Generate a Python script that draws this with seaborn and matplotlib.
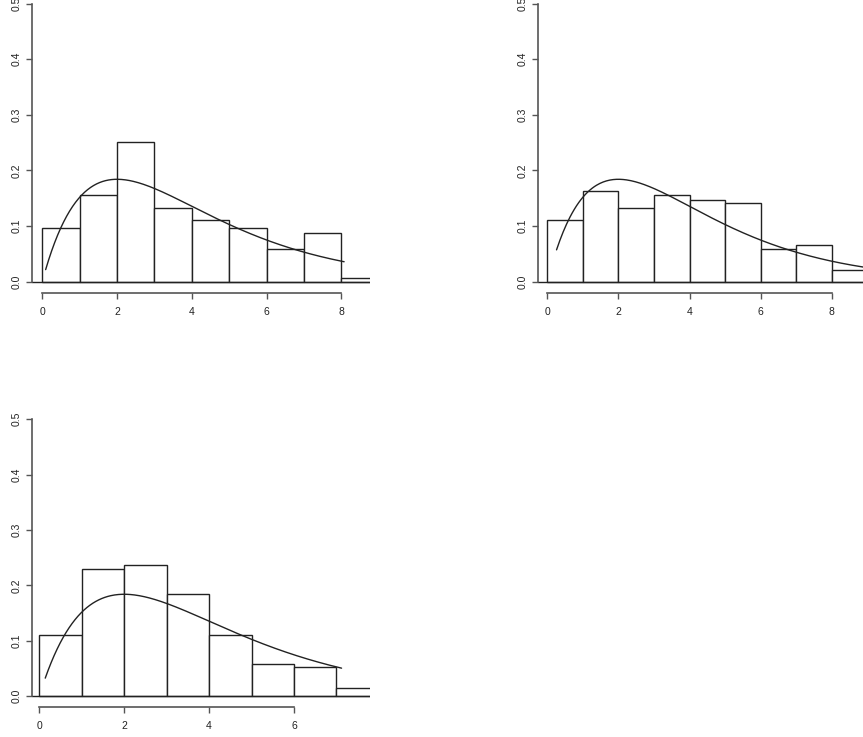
import numpy as np
import pandas as pd
import matplotlib
matplotlib.use("Agg")
import matplotlib.pyplot as plt
import seaborn as sns
from math import gamma

# histogram bin heights (density), bins of width 1 starting at 0
heights_a = [0.096, 0.155, 0.251, 0.133, 0.111, 0.096, 0.059, 0.088, 0.007]
heights_b = [0.111, 0.163, 0.133, 0.155, 0.147, 0.141, 0.059, 0.066, 0.021]
heights_c = [0.111, 0.230, 0.237, 0.185, 0.110, 0.059, 0.052, 0.014]

# range over which the chi-square density curve is drawn
curve_a = [0.09, 8.07]
curve_b = [0.26, 9.6]
curve_c = [0.14, 7.12]
chisq_df = 4

xticks_a = [0, 2, 4, 6, 8]
xticks_b = [0, 2, 4, 6, 8]
xticks_c = [0, 2, 4, 6]
yticks = [0.0, 0.1, 0.2, 0.3, 0.4, 0.5]

sns.set_style("white")
plt.rcParams['font.family'] = ['Liberation Sans', 'DejaVu Sans']

W, H = 863, 737
fig = plt.figure(figsize=(W / 100, H / 100), dpi=100)

line_col = "#222222"
axis_col = "#555555"


def dchisq(x, k):
    return x ** (k / 2 - 1) * np.exp(-x / 2) / (2 ** (k / 2) * gamma(k / 2))


def panel(px_left, px_right, px_top, px_bottom, xlim, heights, curve, xticks):
    ax = fig.add_axes([px_left / W, 1 - px_bottom / H,
                       (px_right - px_left) / W, (px_bottom - px_top) / H])
    edges = list(range(len(heights) + 1))
    df = pd.DataFrame({"x": [e + 0.5 for e in edges[:-1]], "h": heights})
    sns.histplot(data=df, x="x", weights="h", bins=edges, ax=ax,
                 color="white", edgecolor=line_col, linewidth=1.0, alpha=1)
    xs = np.linspace(curve[0], curve[1], 300)
    cdf = pd.DataFrame({"x": xs, "y": dchisq(xs, chisq_df)})
    sns.lineplot(data=cdf, x="x", y="y", ax=ax, color=line_col, linewidth=1.0)
    ax.axhline(0, color=line_col, linewidth=1.0)
    ax.set_xlim(*xlim)
    ax.set_ylim(-0.02, 0.52)
    ax.set_xlabel("")
    ax.set_ylabel("")
    ax.set_xticks(xticks)
    ax.set_yticks(yticks)
    ax.set_xticklabels([str(t) for t in xticks])
    ax.set_yticklabels([f"{t:.1f}" for t in yticks], rotation=90, va="center")
    for s in ["top", "right"]:
        ax.spines[s].set_visible(False)
    ax.spines["left"].set_bounds(0, 0.5)
    ax.spines["bottom"].set_bounds(xticks[0], xticks[-1])
    for s in ["left", "bottom"]:
        ax.spines[s].set_color(axis_col)
        ax.spines[s].set_linewidth(1.2)
    ax.tick_params(axis="both", bottom=True, left=True, length=4, width=1.0,
                   color=axis_col, labelsize=7.5, labelcolor="#222222",
                   direction="out")
    ax.tick_params(axis="x", pad=6)
    ax.tick_params(axis="y", pad=4)
    ax.patch.set_alpha(0)
    return ax


panel(32.3, 370, -7.6, 292.7, (-0.267, 8.762), heights_a, curve_a, xticks_a)
panel(538.3, 888.6, -7.6, 292.7, (-0.253, 9.6), heights_b, curve_b, xticks_b)
panel(32.3, 370, 408, 707.3, (-0.165, 7.79), heights_c, curve_c, xticks_c)

fig.savefig("out.png", dpi=100)
